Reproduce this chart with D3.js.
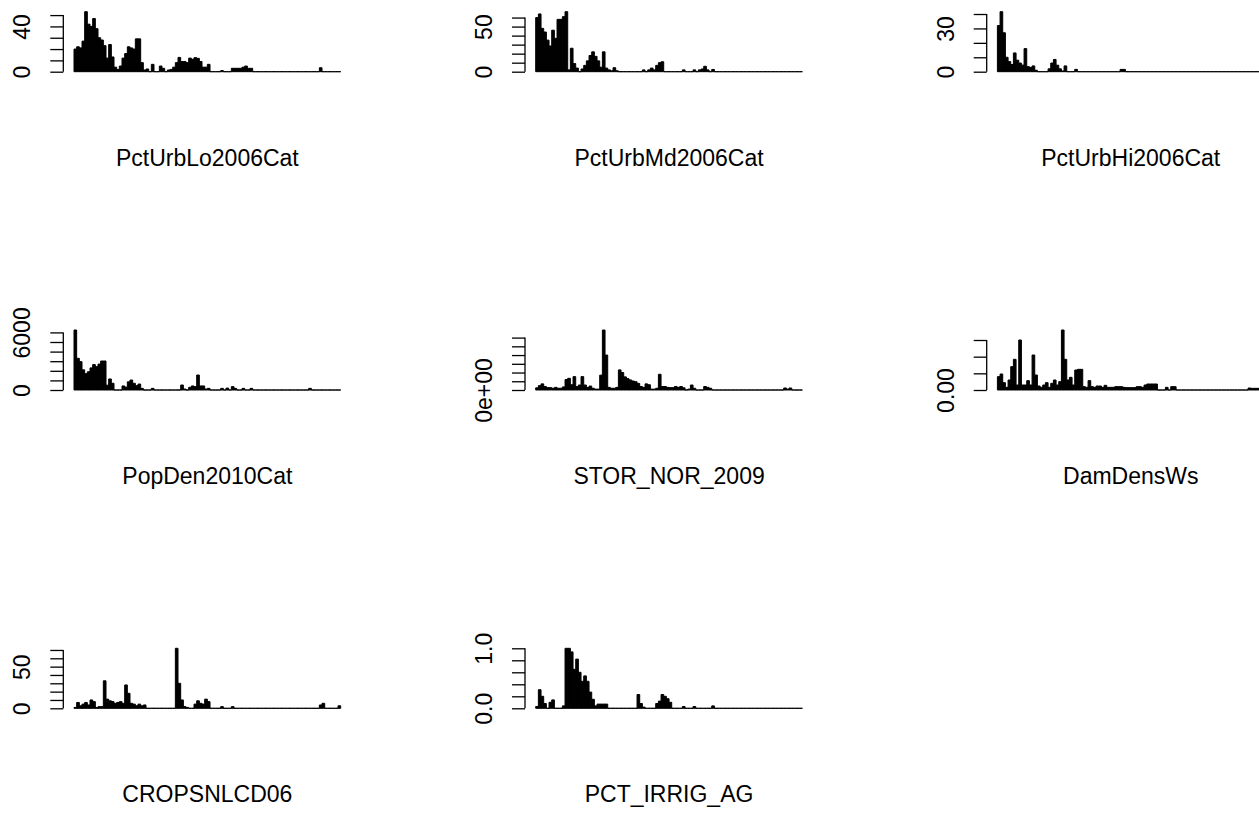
<!DOCTYPE html>
<html>
<head>
<meta charset="utf-8">
<script src="https://cdn.jsdelivr.net/npm/d3@7"></script>
<style>
  body { margin: 0; background: #fff; }
  svg { display: block; font-family: "Liberation Sans", Arial, sans-serif; }
</style>
</head>
<body>
<div id="chart"></div>
<script>
// panel titles (x labels), in drawing order
const panelNames = ['PctUrbLo2006Cat', 'PctUrbMd2006Cat', 'PctUrbHi2006Cat',
                    'PopDen2010Cat', 'STOR_NOR_2009', 'DamDensWs',
                    'CROPSNLCD06', 'PCT_IRRIG_AG']

// bar heights, one array per panel (100 bars each)
const pctUrbLo = [20,22,21,27,53,42,40,47,38,30, 28,23,12,24,13,4,2,5,12,16,
  22,21,20,29,29,8,1.5,2.4,0,6.5, 0,0,5,3,0,1.5,2,4,8,12.6,
  9,9,8,12,11,12.4,11.8,9,4,4, 6.5,0,0,0,0,1,0,0,0,3,
  3,3,3,4,5,3,3,0,0,0, 0,0,0,0,0,0,0,0,0,0,
  0,0,0,0,0,0,0,0,0,0, 0,0,3.5,0,0,0,0,0,0,0]
const pctUrbMd = [60,64,48,44,35,28.5,46,37,58,58, 61,66.5,2,26,9,4,0,3,7,12,
  18,22,17,12,5,22,4,2,1,4.4, 1,0,0,0,0,0,0,0,0,0,
  2,0,2,4,2,7,10,11,0,0, 0,0,0,0,0,2,0,0,0,2,
  0,2,3,6,2,0,2.5,0,0,0, 0,0,0,0,0,0,0,0,0,0,
  0,0,0,0,0,0,0,0,0,0, 0,0,0,0,0,0,0,0,0,0]
const pctUrbHi = [32,41.6,27,10,7,5,13,8,6,4.6, 16,3.5,3,4,1,0,0,0,0,2,
  6,8.5,4.5,2,0.5,4,0,0,0,1.6, 0,0,0,0,0,0,0,0,0,0,
  0,0,0,0,0,0,1.6,1.6,0,0, 0,0,0,0,0,0,0,0,0,0,
  0,0,0,0,0,0,0,0,0,0, 0,0,0,0,0,0,0,0,0,0,
  0,0,0,0,0,0,0,0,0,0, 0,0,0,0,0,0,0,0,0,0]
const popDen = [6250,3300,2950,2100,1700,1900,2300,2650,2430,2700,
  3020,3020,500,1150,700,0,0,0,420,300,
  850,1040,700,450,620,170,0,0,0,170, 0,0,0,0,0,0,0,0,0,0,
  520,100,0,280,420,350,1560,420,420,100,
  170,0,0,0,0,170,0,200,0,350, 170,0,0,170,0,0,170,0,0,0,
  0,0,0,0,0,0,0,0,0,0, 0,0,0,0,0,0,0,0,170,0,
  0,0,0,0,0,0,0,0,0,0]
const storNor = [25000,50000,70000,40000,27000,27000,20000,30000,20000,20000,
  35000,120000,134000,60000,153000,40000,57000,153000,57000,30000,
  45000,20000,10000,10000,170000,687000,400000,30000,20000,20000,
  30000,230000,200000,150000,130000,115000,103000,95000,76000,40000,
  30000,70000,60000,10000,10000,20000,180000,40000,40000,30000,
  27000,27000,40000,30000,40000,25000,0,10000,57000,20000,
  0,0,0,40000,30000,20000,0,0,0,0, 0,0,0,0,0,0,0,0,0,0,
  0,0,0,0,0,0,0,0,0,0, 0,0,0,23000,10000,23000,0,0,0,0]
const damDens = [0.04,0.048,0.022,0.008,0.03,0.07,0.092,0.015,0.15,0.015,
  0.015,0.028,0.015,0.105,0.045,0.012,0.008,0.015,0.022,0.008,
  0.02,0.03,0.015,0.025,0.18,0.092,0.03,0.038,0.015,0.06,
  0.062,0.062,0.01,0.008,0.028,0.01,0.008,0.012,0.012,0.008,
  0.014,0.008,0.008,0.008,0.01,0.01,0.01,0.008,0.007,0.007,
  0.007,0.007,0.01,0.01,0.008,0.015,0.018,0.018,0.018,0.018,
  0,0,0,0.008,0,0.01,0.01,0,0,0, 0,0,0,0,0,0,0,0,0,0,
  0,0,0,0,0,0,0,0,0,0, 0,0,0,0,0.006,0.005,0.005,0.005,0.005,0.005]
const crops = [1,7,3,5,7,4,10,8,1,2, 2,33,11,9,8,6,7,8,6,28,
  18,6,5,3,5,3,4,0,0,0, 0,0,0,0,0,0,0,0,72,30,
  10,2,1,0,0,5,9,6,5,11, 8,0,0,0,0,2,0,0,0,2,
  0,0,0,0,0,0,0,0,0,0, 0,0,0,0,0,0,0,0,0,0,
  0,0,0,0,0,0,0,0,0,0, 0,0,4,6,0,0,0,0,0,3]
const pctIrrig = [0.03,0.31,0.2,0.08,0,0.1,0.14,0,0,0,
  0.04,1.0,1.0,0.94,0.65,0.82,0.6,0.45,0.54,0.45,
  0.27,0.15,0.04,0.07,0.07,0.07,0.07,0,0,0,
  0,0,0,0,0,0,0,0,0.23,0.08, 0.02,0,0,0,0,0.08,0.12,0.23,0.2,0.16,
  0.1,0,0,0,0,0.03,0,0,0,0.03, 0,0,0,0,0,0,0.04,0,0,0,
  0,0,0,0,0,0,0,0,0,0, 0,0,0,0,0,0,0,0,0,0,
  0,0,0,0,0,0,0,0,0,0]
const panelValues = [pctUrbLo, pctUrbMd, pctUrbHi, popDen, storNor, damDens, crops, pctIrrig]

// y tick spacing and the tick labels that R managed to print
const tickSteps = [10, 10, 10, 1000, 100000, 0.05, 10, 0.2]
const tickLabels = [
  ['0', '', '', '', '40', ''],
  ['0', '', '', '', '', '50', ''],
  ['0', '', '', '30', ''],
  ['0', '', '', '', '', '', '6000'],
  ['0e+00', '', '', '', '', '', ''],
  ['0.00', '', '', ''],
  ['0', '', '', '', '', '50', '', ''],
  ['0.0', '', '', '', '', '1.0']
]

const width = 1259, height = 823
const colX = [63.3, 525, 986.7]      // y-axis position of each column
const rowBase = [71.7, 390, 708.3]   // zero line of each row
const plotH = 60, barLeft = 10.7, barSpan = 266.7
const fontSize = 23

const svg = d3.select('#chart').append('svg')
  .attr('width', width)
  .attr('height', height)

svg.append('rect').attr('width', width).attr('height', height).attr('fill', '#fff')

panelValues.forEach((values, p) => {
  const ax = colX[p % 3]
  const base = rowBase[Math.floor(p / 3)]
  const g = svg.append('g').attr('class', 'panel')

  const xScale = d3.scaleBand()
    .domain(d3.range(values.length))
    .range([ax + barLeft, ax + barLeft + barSpan])
    .padding(0)

  const yMax = d3.max(values)
  const yScale = d3.scaleLinear()
    .domain([0, yMax])
    .range([base, base - plotH])

  const step = tickSteps[p]
  const ticks = d3.range(0, yMax + step * 1e-6, step)
  const labels = tickLabels[p]

  // bars as closed paths, so zero bars still draw their border (R barplot look)
  const w = xScale.bandwidth()
  g.append('g').selectAll('path')
    .data(values)
    .join('path')
    .attr('d', (d, i) => {
      const x0 = xScale(i), y0 = yScale(d)
      return `M${x0},${base}H${x0 + w}V${y0}H${x0}Z`
    })
    .attr('fill', '#000')
    .attr('stroke', '#000')
    .attr('stroke-width', 1)

  // y axis
  const yAxis = d3.axisLeft(yScale)
    .tickValues(ticks)
    .tickSize(13)
    .tickFormat((d, i) => labels[i] || '')

  const yAxisG = g.append('g')
    .attr('transform', `translate(${ax},0)`)
    .call(yAxis)
  yAxisG.select('.domain').remove()
  yAxisG.selectAll('.tick line').attr('stroke', '#000').attr('stroke-width', 1.3)
  yAxisG.append('line')
    .attr('y1', yScale(0))
    .attr('y2', yScale(ticks[ticks.length - 1]))
    .attr('stroke', '#000')
    .attr('stroke-width', 1.3)
  yAxisG.selectAll('.tick text')
    .attr('x', 0).attr('y', 0).attr('dy', 0)
    .attr('transform', 'translate(-33,0) rotate(-90)')
    .attr('text-anchor', 'middle')
    .attr('fill', '#000')
    .style('font-size', fontSize + 'px')
    .style('font-family', '"Liberation Sans", Arial, sans-serif')

  // x label
  g.append('text')
    .attr('x', ax + barLeft + barSpan / 2)
    .attr('y', base + 94)
    .attr('text-anchor', 'middle')
    .style('font-size', fontSize + 'px')
    .text(panelNames[p])
})
</script>
</body>
</html>
